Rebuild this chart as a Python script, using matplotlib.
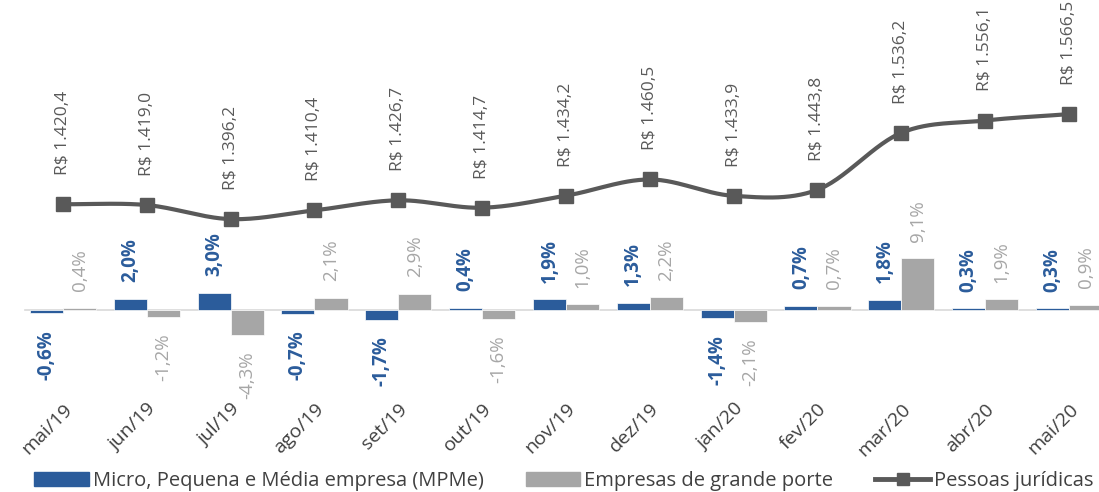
import numpy as np
import matplotlib.pyplot as plt
from matplotlib.lines import Line2D
from matplotlib.patches import Patch

plt.rcParams['font.family'] = ['Open Sans', 'DejaVu Sans']

months = ['mai/19', 'jun/19', 'jul/19', 'ago/19', 'set/19', 'out/19', 'nov/19',
          'dez/19', 'jan/20', 'fev/20', 'mar/20', 'abr/20', 'mai/20']
mpme = [-0.6, 2.0, 3.0, -0.7, -1.7, 0.4, 1.9, 1.3, -1.4, 0.7, 1.8, 0.3, 0.3]
grande = [0.4, -1.2, -4.3, 2.1, 2.9, -1.6, 1.0, 2.2, -2.1, 0.7, 9.1, 1.9, 0.9]
pj = [1420.4, 1419.0, 1396.2, 1410.4, 1426.7, 1414.7, 1434.2, 1460.5,
      1433.9, 1443.8, 1536.2, 1556.1, 1566.5]

BLUE = '#2B5C9B'
GRAY = '#A6A6A6'
DARK = '#595959'


def pct(v):
    return f'{v:.1f}%'.replace('.', ',')


def brl(v):
    s = f'{v:,.1f}'.replace(',', 'X').replace('.', ',').replace('X', '.')
    return f'R$ {s}'


def catmull_rom(x, y, n=30):
    # smooth curve through every point, like Excel's smoothed line
    px = np.concatenate([[2 * x[0] - x[1]], x, [2 * x[-1] - x[-2]]])
    py = np.concatenate([[2 * y[0] - y[1]], y, [2 * y[-1] - y[-2]]])
    xs, ys = [], []
    t = np.linspace(0, 1, n, endpoint=False)
    for i in range(1, len(px) - 2):
        for arr, out in ((px, xs), (py, ys)):
            p0, p1, p2, p3 = arr[i - 1], arr[i], arr[i + 1], arr[i + 2]
            out.extend(0.5 * (2 * p1 + (-p0 + p2) * t
                              + (2 * p0 - 5 * p1 + 4 * p2 - p3) * t ** 2
                              + (-p0 + 3 * p1 - 3 * p2 + p3) * t ** 3))
    xs.append(x[-1])
    ys.append(y[-1])
    return np.array(xs), np.array(ys)


x = np.arange(len(months))
w = 0.395

fig = plt.figure(figsize=(10.99, 4.92), dpi=100)
ax = fig.add_axes([0.0, 0.187, 1.0, 0.772])
ax2 = ax.twinx()

ax.bar(x - w / 2, mpme, w, color=BLUE, edgecolor='white', linewidth=0.5, zorder=2)
ax.bar(x + w / 2, grande, w, color=GRAY, edgecolor='white', linewidth=0.5, zorder=2)
ax.plot([-0.45, 12.5], [0, 0], color='#D9D9D9', lw=1.2, zorder=1)

for xi, v in zip(x, mpme):
    ax.annotate(pct(v), (xi - w / 2, v), xytext=(0, 12 if v >= 0 else -12),
                textcoords='offset points', rotation=90, ha='center',
                va='bottom' if v >= 0 else 'top', color=BLUE,
                fontsize=13.5, fontweight='bold')
for xi, v in zip(x, grande):
    ax.annotate(pct(v), (xi + w / 2, v), xytext=(0, 12 if v >= 0 else -12),
                textcoords='offset points', rotation=90, ha='center',
                va='bottom' if v >= 0 else 'top', color=GRAY, fontsize=13.5)

sx, sy = catmull_rom(x.astype(float), np.array(pj, dtype=float))
ax2.plot(sx, sy, color=DARK, lw=3, zorder=3)
ax2.plot(x, pj, ls='none', marker='s', ms=10, color=DARK, zorder=4)
pj_labels = []
for xi, v in zip(x, pj):
    t = ax2.annotate(brl(v), (xi, v), xytext=(0, 21), textcoords='offset points',
                     rotation=90, ha='center', va='bottom', color=DARK,
                     fontsize=12.5)
    pj_labels.append(t)

ax.set_xlim(-0.7515, 12.358)
ax.set_ylim(-15.8, 50.9)
ax2.set_ylim(1102.8, 1718.9)

ax.set_xticks(x)
ax.set_xticklabels(months, rotation=45, ha='right', rotation_mode='anchor',
                   fontsize=14, color='#404040')
ax.tick_params(axis='x', length=0, pad=0)
ax.set_yticks([])
ax2.set_yticks([])
for a in (ax, ax2):
    for s in a.spines.values():
        s.set_visible(False)

handles = [Patch(color=BLUE), Patch(color=GRAY),
           Line2D([], [], color=DARK, lw=3.5, marker='s', ms=8)]
labels = ['Micro, Pequena e Média empresa (MPMe)', 'Empresas de grande porte',
          'Pessoas jurídicas']
fig.legend(handles, labels, loc='lower center', bbox_to_anchor=(0.513, -0.035),
           ncol=3, frameon=False, fontsize=14.5, columnspacing=2.1,
           handlelength=2.7, handleheight=0.65, handletextpad=0.2,
           labelcolor='#404040')

# push labels that would run past the top edge back inside the figure
fig.canvas.draw()
top = fig.bbox.height - 1
for t in pj_labels:
    bb = t.get_window_extent()
    if bb.y1 > top:
        dx, dy = t.xyann
        t.xyann = (dx, dy - (bb.y1 - top) * 72 / fig.dpi)

fig.savefig('out.png', dpi=100)
